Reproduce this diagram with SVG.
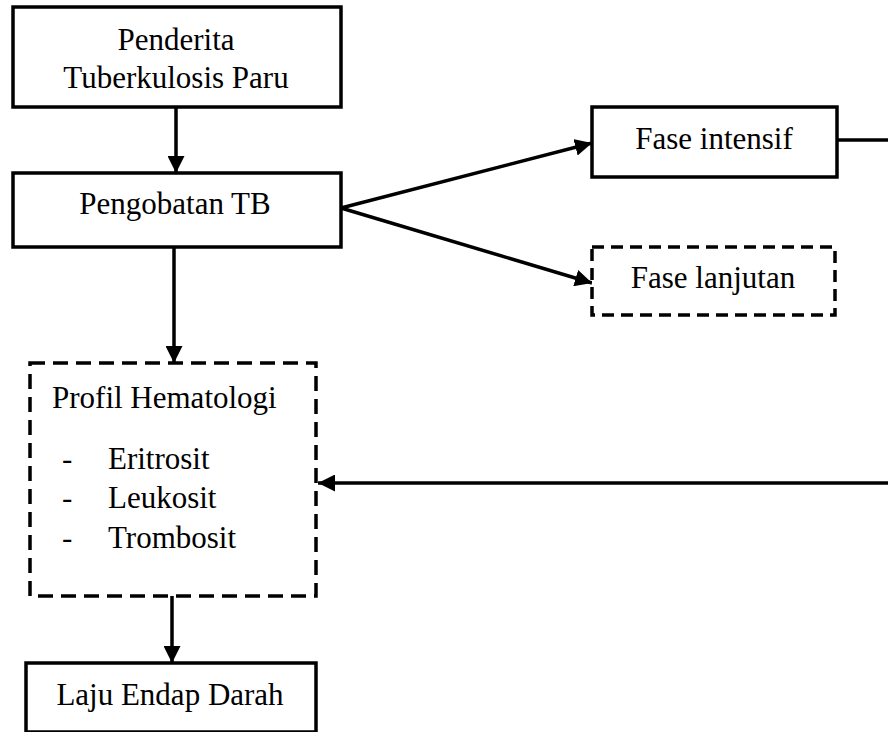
<svg xmlns="http://www.w3.org/2000/svg" width="888" height="732" viewBox="0 0 888 732">
  <style>
    .box { fill: #fff; stroke: #000; stroke-width: 3.5; }
    .dash1 { stroke-dasharray: 15 8; }
    .dash2 { stroke-dasharray: 12 7; }
    .t { font-family: "Liberation Serif", "Times New Roman", serif; font-size: 31px; fill: #000; }
    .c { text-anchor: middle; }
    .edge { fill: none; stroke: #000; stroke-width: 3.5; }
  </style>
  <defs>
    <marker id="arr" markerUnits="userSpaceOnUse" markerWidth="17" markerHeight="17" viewBox="0 0 16 16" refX="16" refY="8" orient="auto">
      <path d="M0,0 L16,8 L0,16 z" fill="#000"/>
    </marker>
  </defs>
  <rect width="888" height="732" fill="#fff"/>

  <g id="connectors">
    <line class="edge" x1="176" y1="107" x2="176" y2="173" marker-end="url(#arr)"/>
    <line class="edge" x1="341" y1="208" x2="592" y2="143" marker-end="url(#arr)"/>
    <line class="edge" x1="341" y1="208" x2="592" y2="283" marker-end="url(#arr)"/>
    <line class="edge" x1="174" y1="247" x2="174" y2="363" marker-end="url(#arr)"/>
    <line class="edge" x1="172" y1="596" x2="172" y2="663" marker-end="url(#arr)"/>
    <line class="edge" x1="837" y1="140" x2="890" y2="140"/>
    <line class="edge" x1="890" y1="483" x2="318" y2="483" marker-end="url(#arr)"/>
  </g>

  <g id="penderita">
    <rect class="box" x="13" y="7" width="328" height="100"/>
    <text class="t c" x="176" y="50">Penderita</text>
    <text class="t c" x="176" y="88">Tuberkulosis Paru</text>
  </g>

  <g id="pengobatan">
    <rect class="box" x="13" y="173" width="328" height="74"/>
    <text class="t c" x="175" y="214">Pengobatan TB</text>
  </g>

  <g id="fase-intensif">
    <rect class="box" x="592" y="107" width="245" height="70"/>
    <text class="t c" x="714" y="149">Fase intensif</text>
  </g>

  <g id="fase-lanjutan">
    <rect class="box dash2" x="592" y="247" width="243" height="68"/>
    <text class="t c" x="713" y="288">Fase lanjutan</text>
  </g>

  <g id="profil-hematologi">
    <rect class="box dash1" x="30" y="363" width="286" height="233"/>
    <text class="t" x="52" y="408">Profil Hematologi</text>
    <text class="t" x="62" y="469">-</text>
    <text class="t" x="108" y="469">Eritrosit</text>
    <text class="t" x="62" y="508">-</text>
    <text class="t" x="108" y="508">Leukosit</text>
    <text class="t" x="62" y="548">-</text>
    <text class="t" x="108" y="548">Trombosit</text>
  </g>

  <g id="laju-endap-darah">
    <rect class="box" x="26" y="663" width="290" height="69"/>
    <text class="t c" x="170" y="705">Laju Endap Darah</text>
  </g>
</svg>
